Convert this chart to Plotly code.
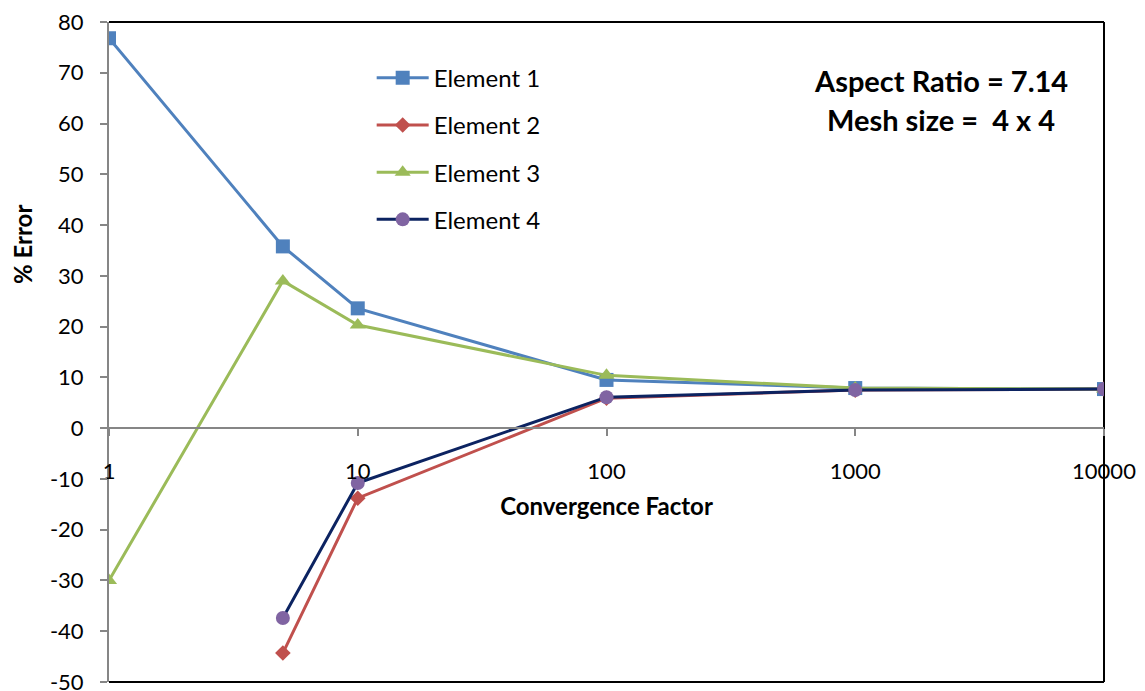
import plotly.graph_objects as go

x_vals = [1, 5, 10, 100, 1000, 10000]
elem1 = [76.8, 35.8, 23.6, 9.5, 7.9, 7.7]
elem2 = [None, -44.3, -13.8, 5.9, 7.5, 7.7]
elem3 = [-30.0, 29.0, 20.3, 10.4, 7.9, 7.7]
elem4 = [None, -37.4, -10.8, 6.1, 7.5, 7.7]
names = ["Element 1", "Element 2", "Element 3", "Element 4"]
x_ticks = [1, 10, 100, 1000, 10000]
x_tick_text = ["1", "10", "100", "1000", "10000"]
y_ticks = list(range(-50, 81, 10))
y_tick_text = [str(v) for v in y_ticks]

FONT = "Lato, 'Open Sans', sans-serif"

styles = [
    dict(line=dict(color="#4F81BD", width=3), marker=dict(symbol="square", size=14, color="#4F81BD")),
    dict(line=dict(color="#C0504D", width=3), marker=dict(symbol="diamond", size=12, color="#C0504D")),
    dict(line=dict(color="#9BBB59", width=3), marker=dict(symbol="triangle-up", size=14, color="#9BBB59")),
    dict(line=dict(color="#0C2361", width=3), marker=dict(symbol="circle", size=14, color="#8064A2")),
]

fig = go.Figure()
for i, (nm, ys) in enumerate(zip(names, [elem1, elem2, elem3, elem4])):
    fig.add_trace(go.Scatter(
        x=x_vals, y=ys, name=nm, mode="lines+markers",
        legendgroup=f"g{i}", connectgaps=False, **styles[i]))

y_min, y_max = -50, 80
zero_pos = (0 - y_min) / (y_max - y_min)

# page body has an 8px margin: figure drawn at (8, 8)
PLOT_L, PLOT_T, PLOT_W, PLOT_H = 109, 22, 995, 660
OFF = 8

fig.update_layout(
    width=1145 - OFF, height=691 - OFF,
    margin=dict(l=PLOT_L - OFF, r=41, t=PLOT_T - OFF, b=9, autoexpand=False),
    paper_bgcolor="white", plot_bgcolor="white",
    font=dict(family=FONT, size=22, color="black"),
    showlegend=True,
    legend=dict(x=0.264, y=0.949, xanchor="left", yanchor="top",
                bgcolor="rgba(0,0,0,0)", font=dict(size=24),
                tracegroupgap=13, itemwidth=52),
    xaxis=dict(type="log", range=[0, 4], anchor="free", position=zero_pos,
               tickvals=x_ticks, ticktext=x_tick_text, automargin=False,
               ticks="outside", ticklen=7, tickcolor="#868686", tickwidth=2,
               showline=True, linecolor="#868686", linewidth=2,
               showgrid=False, zeroline=False,
               ticklabelstandoff=16, ticklabeloverflow="allow",
               tickfont=dict(size=22),
               title=dict(text="<b>Convergence Factor</b>", font=dict(size=24), standoff=15)),
    yaxis=dict(range=[y_min, y_max], tickvals=y_ticks, ticktext=y_tick_text,
               automargin=False,
               ticks="outside", ticklen=7, tickcolor="#868686", tickwidth=2,
               showline=True, linecolor="#868686", linewidth=2,
               showgrid=False, zeroline=False,
               ticklabelstandoff=12, ticklabeloverflow="allow",
               tickfont=dict(size=22)),
    shapes=[
        dict(type="line", xref="paper", yref="paper", x0=0, x1=1, y0=1, y1=1,
             line=dict(color="black", width=2), layer="below"),
        dict(type="line", xref="paper", yref="paper", x0=1, x1=1, y0=0, y1=1,
             line=dict(color="black", width=2), layer="below"),
        dict(type="line", xref="paper", yref="paper", x0=0, x1=1, y0=0, y1=0,
             line=dict(color="black", width=2), layer="below"),
    ],
    annotations=[
        dict(text="<b>% Error</b>", textangle=-90,
             xref="paper", yref="paper", x=(22 - PLOT_L) / PLOT_W, y=(682 - 245) / PLOT_H,
             xanchor="center", yanchor="middle", showarrow=False,
             font=dict(size=24, family=FONT)),
        dict(text="<b>Aspect Ratio = 7.14</b>",
             xref="paper", yref="paper", x=0.836, y=(682 - 80) / PLOT_H,
             xanchor="center", yanchor="middle", showarrow=False,
             font=dict(size=29, family=FONT)),
        dict(text="<b>Mesh size =  4 x 4</b>",
             xref="paper", yref="paper", x=0.836, y=(682 - 120) / PLOT_H,
             xanchor="center", yanchor="middle", showarrow=False,
             font=dict(size=29, family=FONT)),
    ],
)

fig.write_html("out.html")
